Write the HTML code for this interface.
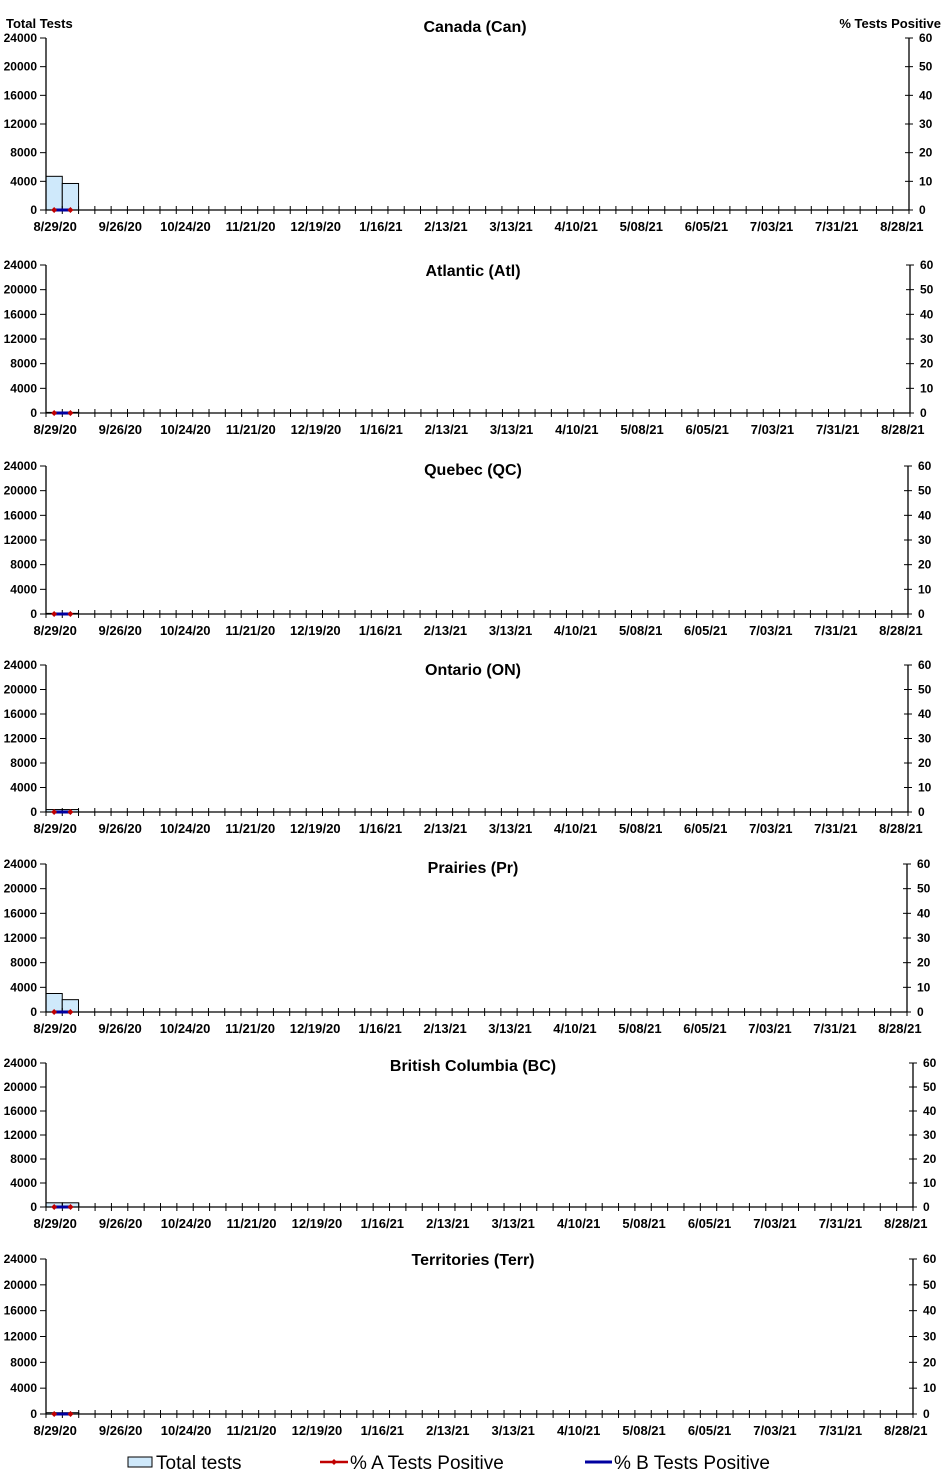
<!DOCTYPE html>
<html><head><meta charset="utf-8"><style>
body{margin:0;background:#fff;}
svg{display:block;font-family:"Liberation Sans",Arial,sans-serif;font-weight:bold;}
</style></head><body>
<svg id="s" width="947" height="1476" xmlns="http://www.w3.org/2000/svg">
<text x="6" y="28" font-size="13">Total Tests</text>
<text x="941" y="28" font-size="13" text-anchor="end">% Tests Positive</text>
<text x="475" y="32" font-size="16" text-anchor="middle">Canada (Can)</text>
<text x="473" y="276" font-size="16" text-anchor="middle">Atlantic (Atl)</text>
<text x="473" y="475" font-size="16" text-anchor="middle">Quebec (QC)</text>
<text x="473" y="675" font-size="16" text-anchor="middle">Ontario (ON)</text>
<text x="473" y="873" font-size="16" text-anchor="middle">Prairies (Pr)</text>
<text x="473" y="1071" font-size="16" text-anchor="middle">British Columbia (BC)</text>
<text x="473" y="1265" font-size="16" text-anchor="middle">Territories (Terr)</text>
<g font-weight="normal" font-size="19">
<rect x="128" y="1457" width="24" height="10" fill="#cfe9fb" stroke="#000" stroke-width="1"/>
<text x="156" y="1469">Total tests</text>
<line x1="320" y1="1462" x2="348" y2="1462" stroke="#c00000" stroke-width="2.5"/>
<path d="M334 1459 L337 1462 L334 1465 L331 1462Z" fill="#c00000"/>
<text x="350" y="1469">% A Tests Positive</text>
<line x1="585" y1="1462" x2="612" y2="1462" stroke="#0000a0" stroke-width="3"/>
<text x="614" y="1469">% B Tests Positive</text>
</g>
</svg>
<script>
var s=document.getElementById('s'),NS='http://www.w3.org/2000/svg';
function el(t,a,txt){var e=document.createElementNS(NS,t);for(var k in a)e.setAttribute(k,a[k]);if(txt!=null)e.textContent=txt;s.appendChild(e);return e;}
var charts=[
[38,210,909,4700,3700,226],
[265,413,910,100,100,429],
[466,614,908,100,100,630],
[665,812,908,400,400,828],
[864,1012,907,3000,2000,1028],
[1063,1207,913,700,700,1223],
[1259,1414,913,200,200,1430]];
var dates=['8/29/20','9/26/20','10/24/20','11/21/20','12/19/20','1/16/21','2/13/21','3/13/21','4/10/21','5/08/21','6/05/21','7/03/21','7/31/21','8/28/21'];
charts.forEach(function(c){
 var T=c[0],B=c[1],R=c[2],L=46,w=(R-L)/53,h=B-T;
 [c[3],c[4]].forEach(function(v,i){var bh=v/24000*h;el('rect',{x:L+i*w,y:B-bh,width:w,height:bh,fill:'#cfe9fb',stroke:'#000','stroke-width':1});});
 el('line',{x1:L,y1:T,x2:L,y2:B,stroke:'#000','stroke-width':1.3});
 el('line',{x1:R,y1:T,x2:R,y2:B,stroke:'#000','stroke-width':1.3});
 el('line',{x1:L,y1:B,x2:R,y2:B,stroke:'#000','stroke-width':1.3});
 for(var i=0;i<=6;i++){var y=B-i*h/6;
  el('line',{x1:L-6,y1:y,x2:L,y2:y,stroke:'#000'});
  el('line',{x1:R-4,y1:y,x2:R+4,y2:y,stroke:'#000'});
  el('text',{x:37,y:y+4,'font-size':12,'text-anchor':'end'},String(i*4000));
  el('text',{x:R+10,y:y+4,'font-size':12},String(i*10));}
 for(var k=0;k<=53;k++){var x=L+k*w;el('line',{x1:x,y1:B-4,x2:x,y2:B+4,stroke:'#000'});}
 dates.forEach(function(d,j){el('text',{x:L+w/2+j*4*w+1,y:c[5]+5,'font-size':13,'text-anchor':'middle'},d);});
 var x1=L+w/2,x2=L+1.5*w;
 el('line',{x1:x1,y1:B,x2:x2,y2:B,stroke:'#0000a0','stroke-width':3});
 [x1,x2].forEach(function(x){el('path',{d:'M'+x+' '+(B-3)+' L'+(x+3)+' '+B+' L'+x+' '+(B+3)+' L'+(x-3)+' '+B+'Z',fill:'#c00000'});});
});
</script>
</body></html>
